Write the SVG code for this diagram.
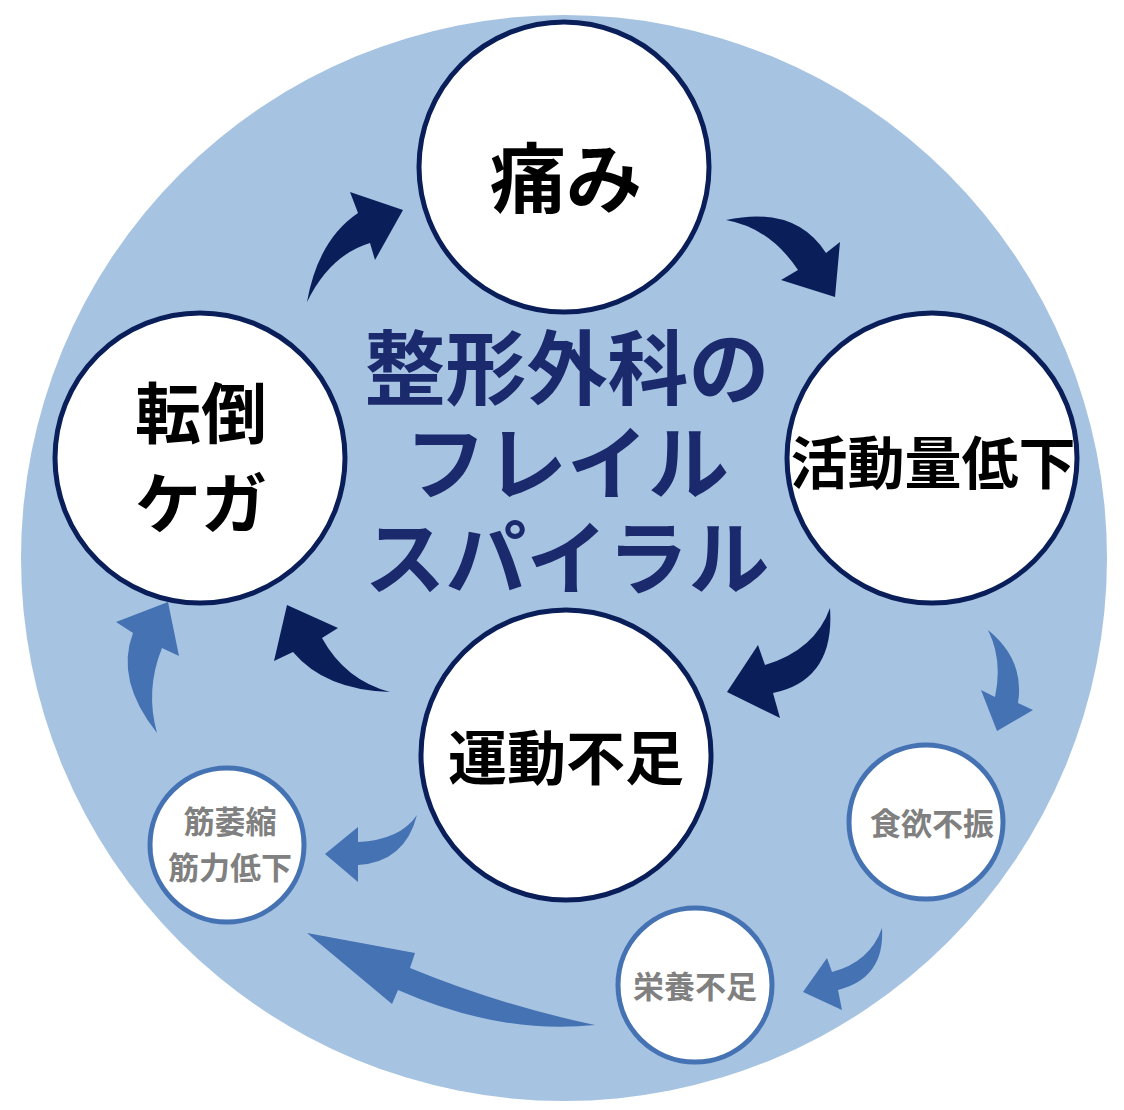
<svg xmlns="http://www.w3.org/2000/svg" width="1124" height="1110" viewBox="0 0 1124 1110">
<style>
.big{fill:#fff;stroke:#0a1f5a;stroke-width:5}
.small{fill:#fff;stroke:#4472b2;stroke-width:5}
.t{font-family:"Noto Sans CJK JP",sans-serif;font-weight:700;text-anchor:middle}
.bt{fill:#000}
.st{fill:#808080;font-size:31px}
.nv{fill:#0a1f5a}
.bl{fill:#4472b2}
.ti{fill:#1a2a6c;font-size:81px}
</style>
<rect width="1124" height="1110" fill="#fff"/>
<circle cx="564" cy="558" r="543" fill="#a6c3e2"/>
<g id="title">
<text class="t ti" x="567" y="398">整形外科の</text>
<text class="t ti" x="567" y="493">フレイル</text>
<text class="t ti" x="567" y="588">スパイラル</text>
</g>
<g id="connectors">
<path class="nv" d="M307,302 Q318,240 358,213 L350,192 L403,210 L375,260 L370,243 Q330,255 307,302 Z"/>
<path class="nv" d="M726,220 Q795,205 826,253 L840,242 L835,297 L781,280 L798,270 Q770,228 726,220 Z"/>
<path class="nv" d="M830,608 Q835,680 773,693 L780,718 L727,692 L758,645 L765,665 Q815,650 830,608 Z"/>
<path class="nv" d="M287,605 L338,628 L322,638 Q345,680 390,692 Q325,690 293,652 L274,661 Z"/>
<path class="bl" d="M988,630 Q1025,660 1018,703 L1033,710 L997,731 L981,690 L995,697 Q1003,660 988,630 Z"/>
<path class="bl" d="M882,928 Q885,978 838,990 L842,1010 L803,992 L827,958 L832,972 Q870,962 882,928 Z"/>
<path class="bl" d="M307,933 L415,953 L410,968 Q500,1005 595,1025 Q500,1035 398,990 L392,1004 Z"/>
<path class="bl" d="M417,815 Q405,862 358,865 L358,882 L325,854 L358,827 L358,842 Q400,840 417,815 Z"/>
<path class="bl" d="M168,602 L179,656 L162,648 Q145,690 157,733 Q115,680 133,633 L116,622 Z"/>
</g>
<g id="pain"><circle class="big" cx="564" cy="167" r="145"/><text class="t bt" x="566" y="207" font-size="76">痛み</text></g>
<g id="activity"><circle class="big" cx="932" cy="458" r="145"/><text class="t bt" x="933" y="484" font-size="57">活動量低下</text></g>
<g id="exercise"><circle class="big" cx="566" cy="755" r="145"/><text class="t bt" x="566" y="780" font-size="59">運動不足</text></g>
<g id="fall"><circle class="big" cx="200" cy="458" r="145"/><text class="t bt" x="201" y="438" font-size="66">転倒</text><text class="t bt" x="201" y="528" font-size="66">ケガ</text></g>
<g id="appetite"><circle class="small" cx="926" cy="822" r="77"/><text class="t st" x="932" y="835">食欲不振</text></g>
<g id="nutrition"><circle class="small" cx="695" cy="985" r="77"/><text class="t st" x="695" y="998">栄養不足</text></g>
<g id="muscle"><circle class="small" cx="227" cy="845" r="77"/><text class="t st" x="230" y="833">筋萎縮</text><text class="t st" x="230" y="879">筋力低下</text></g>
</svg>
